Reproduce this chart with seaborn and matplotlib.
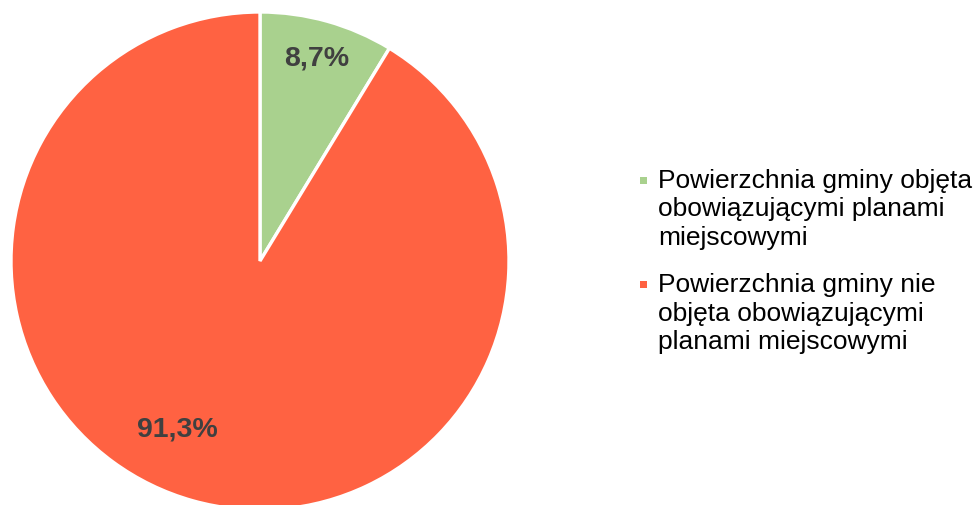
import matplotlib
matplotlib.use("Agg")
import matplotlib.pyplot as plt
from matplotlib.patches import Rectangle
import numpy as np
import seaborn as sns

# Share of municipal area covered by local spatial plans
categories = [
    "Powierzchnia gminy objęta\nobowiązującymi planami\nmiejscowymi",
    "Powierzchnia gminy nie\nobjęta obowiązującymi\nplanami miejscowymi",
]
shares = [8.7, 91.3]
slice_colors = ["#A9D18E", "#FF6242"]

sns.set_theme(style="white")
plt.rcParams["font.family"] = ["Liberation Sans", "DejaVu Sans"]

W, H = 976, 506
fig = plt.figure(figsize=(W / 100, H / 100), dpi=100)
fig.patch.set_facecolor("white")

# Pie axes: centre at (260, 262) px from top-left, radius 249 px
cx, cy, r = 260, 262, 249
ax = fig.add_axes([(cx - r) / W, (H - cy - r) / H, 2 * r / W, 2 * r / H])

palette = sns.color_palette(slice_colors)
wedges, _ = ax.pie(
    shares,
    colors=palette,
    startangle=90,
    counterclock=False,
    radius=1,
    wedgeprops=dict(edgecolor="white", linewidth=2.4),
)
ax.set_xlim(-1, 1)
ax.set_ylim(-1, 1)
ax.set_aspect("equal")
ax.axis("off")

# Data labels: radius (fraction of pie radius) and angular shift per slice
label_radius = [0.85, 0.75]
label_shift = [0.0, -10.7]
for w, val, rr, sh in zip(wedges, shares, label_radius, label_shift):
    ang = np.deg2rad((w.theta1 + w.theta2) / 2 + sh)
    ax.text(rr * np.cos(ang), rr * np.sin(ang),
            f"{val:.1f}%".replace(".", ","),
            ha="center", va="center", fontsize=20.5, fontweight="bold",
            color="#404040")

# Legend to the right: square marker beside the first line of each entry
text_x = 658
marker_x, marker_size = 640, 7
first_baseline = [188, 292]
line_step = 28.5
for label, color, base in zip(categories, palette, first_baseline):
    for k, line in enumerate(label.split("\n")):
        fig.text(text_x / W, 1 - (base + k * line_step) / H, line,
                 ha="left", va="baseline", fontsize=19, color="#000000")
    yc = base - 7
    fig.add_artist(Rectangle((marker_x / W, 1 - (yc + marker_size / 2) / H),
                             marker_size / W, marker_size / H,
                             transform=fig.transFigure, facecolor=color,
                             edgecolor="none"))

fig.savefig("out.png", dpi=100, facecolor="white")
